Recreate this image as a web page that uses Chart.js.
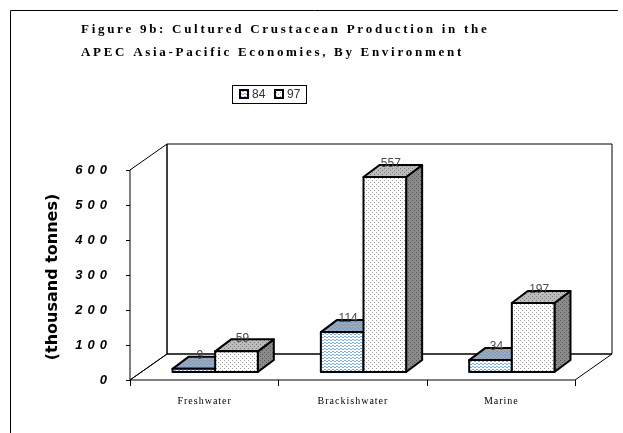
<!DOCTYPE html>
<html>
<head>
<meta charset="utf-8">
<script src="https://cdn.jsdelivr.net/npm/chart.js@4"></script>
<style>
  html, body { margin: 0; padding: 0; background: #fff; }
  #chart { display: block; }
</style>
</head>
<body>
<canvas id="chart" width="623" height="433"></canvas>
<script>
// data ===================================================================
const categories = ['Freshwater', 'Brackishwater', 'Marine'];
const seriesNames = ['84', '97'];
const values84 = [9, 114, 34];
const values97 = [59, 557, 197];
const yTicks = [0, 100, 200, 300, 400, 500, 600];
const titleLines = ['Figure 9b: Cultured Crustacean Production in the', 'APEC Asia-Pacific Economies, By Environment'];
const yTitle = '(thousand tonnes)';

// 3d look: depth of the walls and of the boxes
const DX = 37, DY = -26;
const BX = 11, BY = -8;
const BDX = 16, BDY = -12;

// fill patterns ===========================================================
function makePattern(w, h, bg, fg, pts) {
    const c = document.createElement('canvas');
    c.width = w; c.height = h;
    const g = c.getContext('2d');
    g.fillStyle = bg;
    g.fillRect(0, 0, w, h);
    g.fillStyle = fg;
    pts.forEach(p => g.fillRect(p[0], p[1], 1, 1));
    return g.createPattern(c, 'repeat');
}

const ctx = document.getElementById('chart').getContext('2d');
const wave = [[0, 0], [1, 0], [2, 1], [3, 1]];
const dots = [[0, 0], [2, 2]];
const fills = [
    {
        front: makePattern(4, 3, '#ffffff', '#79aee6', wave),
        top: makePattern(4, 3, '#a4a9b0', '#6f9fd3', wave),
        side: makePattern(4, 3, '#808890', '#5f88b8', wave)
    },
    {
        front: makePattern(4, 4, '#ffffff', '#9a9a9a', dots),
        top: makePattern(4, 4, '#bcbcbc', '#7a7a7a', dots),
        side: makePattern(4, 4, '#8a8a8a', '#555555', dots)
    }
];

// draws text with extra space between the letters
function spacedText(g, text, x, y, gap, align) {
    let total = 0;
    for (const ch of text) total += g.measureText(ch).width + gap;
    total -= gap;
    let cx = align === 'right' ? x - total : align === 'center' ? x - total / 2 : x;
    g.textAlign = 'left';
    for (const ch of text) {
        g.fillText(ch, cx, y);
        cx += g.measureText(ch).width + gap;
    }
}

function poly(g, pts, fill) {
    g.beginPath();
    g.moveTo(pts[0][0], pts[0][1]);
    for (let i = 1; i < pts.length; i++) g.lineTo(pts[i][0], pts[i][1]);
    g.closePath();
    if (fill) { g.fillStyle = fill; g.fill(); }
    g.stroke();
}

// walls, axes and labels drawn under the boxes
const wallsPlugin = {
    id: 'walls',
    beforeDatasetsDraw(chart) {
        const g = chart.ctx;
        const a = chart.chartArea;
        const y = chart.scales.y;
        const x = chart.scales.x;
        g.save();
        g.strokeStyle = '#000';
        g.lineWidth = 1;
        // back wall, left wall, floor
        poly(g, [[a.left + DX, a.top + DY], [a.right + DX, a.top + DY], [a.right + DX, a.bottom + DY], [a.left + DX, a.bottom + DY]], '#fff');
        poly(g, [[a.left, a.top], [a.left + DX, a.top + DY], [a.left + DX, a.bottom + DY], [a.left, a.bottom]]);
        poly(g, [[a.left, a.bottom], [a.right, a.bottom], [a.right + DX, a.bottom + DY], [a.left + DX, a.bottom + DY]]);

        // y ticks
        g.fillStyle = '#000';
        g.font = 'italic bold 13px "Liberation Sans"';
        g.textBaseline = 'middle';
        yTicks.forEach(v => {
            const py = Math.round(y.getPixelForValue(v)) + 0.5;
            g.beginPath();
            g.moveTo(a.left - 4, py);
            g.lineTo(a.left, py);
            g.stroke();
            spacedText(g, String(v), a.left - 23, py, 5, 'right');
        });

        // x ticks between categories
        const step = (a.right - a.left) / categories.length;
        for (let i = 0; i <= categories.length; i++) {
            const px = Math.round(a.left + step * i) + 0.5;
            g.beginPath();
            g.moveTo(px, a.bottom);
            g.lineTo(px, a.bottom + 6);
            g.stroke();
        }
        g.font = '10px "Liberation Serif"';
        categories.forEach((c, i) => {
            spacedText(g, c, x.getPixelForValue(i), a.bottom + 21, 1, 'center');
        });

        // y title
        g.save();
        g.translate(53, (a.top + a.bottom) / 2 + 2);
        g.rotate(-Math.PI / 2);
        g.font = 'bold 16px "DejaVu Sans"';
        g.textAlign = 'center';
        g.fillText(yTitle, 0, 0);
        g.restore();
        g.restore();
    },

    // boxes with their top and side faces
    afterDatasetsDraw(chart) {
        const g = chart.ctx;
        g.save();
        g.strokeStyle = '#000';
        g.lineWidth = 2;
        g.lineJoin = 'round';
        const bars0 = chart.getDatasetMeta(0).data;
        const bars1 = chart.getDatasetMeta(1).data;
        const labels = [];
        categories.forEach((c, i) => {
            [bars0[i], bars1[i]].forEach((el, d) => {
                const p = el.getProps(['x', 'y', 'base', 'width'], true);
                const x0 = p.x - p.width / 2 + BX;
                const x1 = p.x + p.width / 2 + BX;
                const y0 = p.y + BY;
                const y1 = p.base + BY;
                const f = fills[d];
                poly(g, [[x1, y0], [x1 + BDX, y0 + BDY], [x1 + BDX, y1 + BDY], [x1, y1]], f.side);
                poly(g, [[x0, y0], [x1, y0], [x1 + BDX, y0 + BDY], [x0 + BDX, y0 + BDY]], f.top);
                poly(g, [[x0, y0], [x1, y0], [x1, y1], [x0, y1]], f.front);
                const v = chart.data.datasets[d].data[i];
                labels.push([String(v), (x0 + x1) / 2 + 6, y0 + BDY - 1]);
            });
        });
        // value labels
        g.fillStyle = '#4a4a4a';
        g.font = '12px "Liberation Sans"';
        g.textAlign = 'center';
        g.textBaseline = 'middle';
        labels.forEach(l => g.fillText(l[0], l[1], l[2]));
        g.restore();
    },

    // title, legend and outer frame
    afterDraw(chart) {
        const g = chart.ctx;
        g.save();
        g.fillStyle = '#000';
        g.strokeStyle = '#000';
        g.font = 'bold 13px "Liberation Serif"';
        g.textBaseline = 'middle';
        spacedText(g, titleLines[0], 81, 30, 2.7, 'left');
        spacedText(g, titleLines[1], 81, 53, 2.7, 'left');

        // legend box
        g.lineWidth = 1;
        g.strokeRect(232.5, 85.5, 74, 18);
        g.font = '12px "Liberation Sans"';
        g.lineWidth = 2;
        let lx = 240;
        seriesNames.forEach((n, d) => {
            g.fillStyle = fills[d].front;
            g.fillRect(lx, 90, 8, 8);
            g.strokeRect(lx, 90, 8, 8);
            g.fillStyle = '#333';
            g.textAlign = 'left';
            g.fillText(n, lx + 12, 95);
            lx += 35;
        });

        // frame
        g.lineWidth = 1;
        g.beginPath();
        g.moveTo(10.5, 433);
        g.lineTo(10.5, 10.5);
        g.lineTo(618, 10.5);
        g.stroke();
        g.restore();
    }
};

new Chart(ctx, {
    type: 'bar',
    data: {
        labels: categories,
        datasets: [
            { label: seriesNames[0], data: values84, backgroundColor: 'rgba(0,0,0,0)', borderWidth: 0 },
            { label: seriesNames[1], data: values97, backgroundColor: 'rgba(0,0,0,0)', borderWidth: 0 }
        ]
    },
    options: {
        responsive: false,
        animation: false,
        events: [],
        layout: { padding: { left: 130, right: 48, top: 170, bottom: 53 } },
        datasets: { bar: { categoryPercentage: 0.575, barPercentage: 1 } },
        plugins: {
            legend: { display: false },
            title: { display: false },
            tooltip: { enabled: false }
        },
        scales: {
            x: { display: false },
            y: { display: false, min: 0, max: 600 }
        }
    },
    plugins: [wallsPlugin]
});
</script>
</body>
</html>
